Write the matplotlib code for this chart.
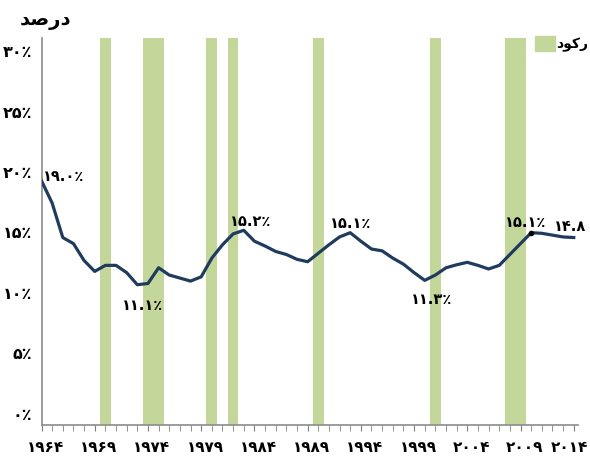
# -*- coding: utf-8 -*-
import matplotlib
matplotlib.use("Agg")
import matplotlib.pyplot as plt
import matplotlib.transforms as mtrans
from matplotlib.patches import Rectangle

# data (share, %)
years = list(range(1964, 2015))
values = [19.2, 17.35, 14.5, 14.0, 12.6, 11.7, 12.2, 12.2, 11.6, 10.6,
          10.7, 12.0, 11.4, 11.15, 10.9, 11.25, 12.8, 13.9, 14.8, 15.1,
          14.2, 13.8, 13.35, 13.1, 12.7, 12.5, 13.2, 13.9, 14.55, 14.9,
          14.2, 13.55, 13.4, 12.8, 12.3, 11.6, 10.96, 11.4, 12.0, 12.25,
          12.45, 12.2, 11.9, 12.2, 13.1, 14.0, 14.9, 14.85, 14.7, 14.55,
          14.5]
recession_years = [1970, 1974, 1975, 1980, 1982, 1990, 2001, 2008, 2009]

# x / y tick labels (Persian digits)
xtick_years = [1964, 1969, 1974, 1979, 1984, 1989, 1994, 1999, 2004, 2009, 2014]
xtick_labels = ["۱۹۶۴", "۱۹۶۹", "۱۹۷۴", "۱۹۷۹", "۱۹۸۴", "۱۹۸۹",
                "۱۹۹۴", "۱۹۹۹", "۲۰۰۴", "۲۰۰۹", "۲۰۱۴"]
ytick_values = [0, 5, 10, 15, 20, 25, 30]
ytick_labels = ["۰٪", "۵٪", "۱۰٪", "۱۵٪", "۲۰٪", "۲۵٪", "۳۰٪"]

# data labels
label_years = [1964, 1973, 1983, 1993, 2000, 2010, 2014]
label_texts = ["۱۹.۰٪", "۱۱.۱٪", "۱۵.۲٪", "۱۵.۱٪", "۱۱.۳٪", "۱۵.۱٪", "۱۴.۸"]

# pre-shaped Persian words (visual order, presentation forms)
title_text = "\uFEAA\uFEBB\uFEAD\uFEA9"    # درصد
legend_text = "\uFEA9\uFEEE\uFB90\uFEAD"   # رکود

bar_color = "#c4d79b"
line_color = "#1f3b5e"


def main():
    plt.rcParams['font.family'] = ['DejaVu Sans']
    plt.rcParams['font.weight'] = 'bold'

    fig = plt.figure(figsize=(5.9, 4.6), dpi=100)
    ax = fig.add_axes([41.5 / 590, 1 - 426 / 460, 536.5 / 590, 387 / 460])

    # recession bars
    ax.bar(recession_years, [32] * len(recession_years), bottom=-1, width=1.0,
           color=bar_color, zorder=1)
    # main line
    ax.plot(years, values, color=line_color, lw=2.3, zorder=3,
            solid_joinstyle="round")
    i2010 = years.index(2010)
    ax.plot([years[i2010]], [values[i2010]], "o", color="black", ms=3, zorder=4)

    # data labels
    offsets = {1964: (1, 4, "left"), 1973: (4, -14, "center"),
               1983: (5, 7, "center"), 1993: (0, 7, "center"),
               2000: (5, -13, "center"), 2010: (-4, 8, "center"),
               2014: (9, 9, "right")}
    for y, t in zip(label_years, label_texts):
        dx, dy, ha = offsets[y]
        ax.annotate(t, (y, values[years.index(y)]), xytext=(dx, dy),
                    textcoords="offset points", ha=ha, va="center",
                    fontsize=10.5, fontweight="bold", annotation_clip=False)

    ax.set_xlim(1964, 2014.4)
    ax.set_ylim(-1, 31)
    ax.set_xticks(xtick_years)
    ax.set_xticklabels(xtick_labels, fontsize=11, fontweight="bold")
    ax.set_xticks(years, minor=True)
    ax.set_yticks(ytick_values)
    ax.set_yticklabels(ytick_labels, fontsize=11.5, fontweight="bold")
    ax.tick_params(axis="x", which="both", direction="out", length=4,
                   color="#7f7f7f", pad=6)
    ax.tick_params(axis="y", length=0, pad=7)
    # x labels sit a little right of their ticks
    shift = mtrans.ScaledTranslation(4 / 100, 0, fig.dpi_scale_trans)
    for lab in ax.get_xticklabels():
        lab.set_transform(lab.get_transform() + shift)
    ax.get_xticklabels()[-1].set_ha("right")
    ax.get_xticklabels()[-1].set_transform(
        ax.get_xticklabels()[-1].get_transform()
        + mtrans.ScaledTranslation(10 / 100, 0, fig.dpi_scale_trans))
    for s in ["top", "right"]:
        ax.spines[s].set_visible(False)
    for s in ["left", "bottom"]:
        ax.spines[s].set_color("#8c8c8c")
        ax.spines[s].set_linewidth(1.2)

    # title
    fig.text(20 / 590, 1 - 20 / 460, title_text, fontsize=14,
             fontweight="bold", va="center", ha="left")
    # legend
    fig.patches.append(Rectangle((535 / 590, 1 - 52 / 460), 20 / 590, 15 / 460,
                                 transform=fig.transFigure, color=bar_color))
    fig.text(588 / 590, 1 - 45 / 460, legend_text, fontsize=10,
             fontweight="bold", va="center", ha="right")

    fig.savefig("out.png", dpi=100)


if __name__ == '__main__':
    main()
